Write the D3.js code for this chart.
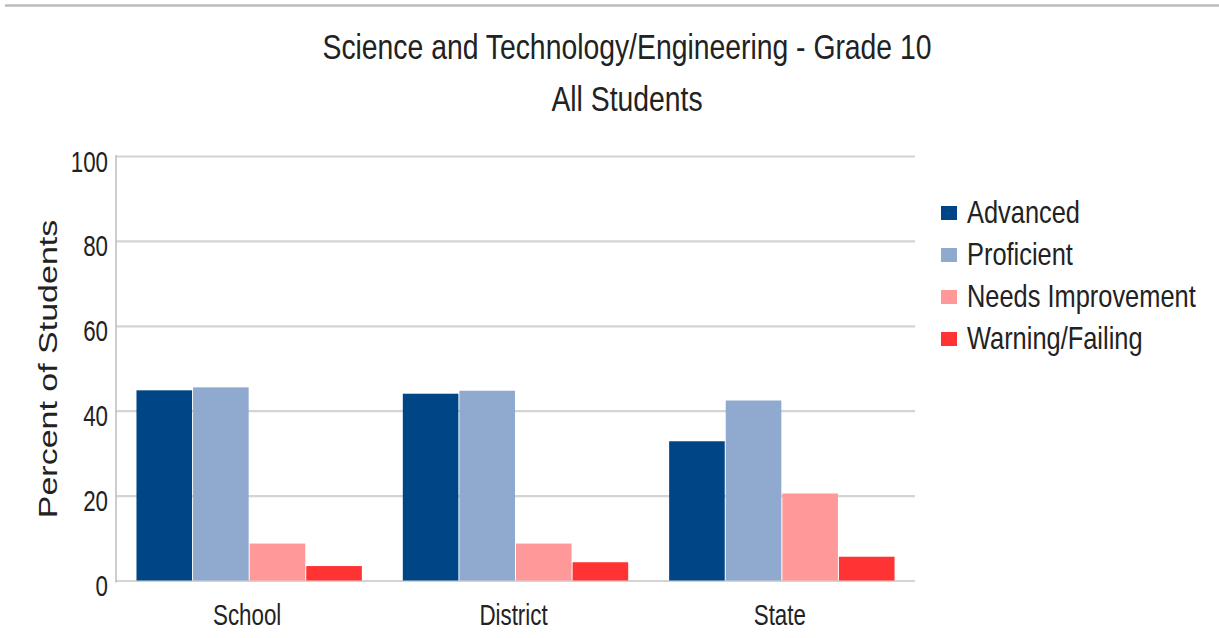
<!DOCTYPE html>
<html>
<head>
<meta charset="utf-8">
<script src="https://cdn.jsdelivr.net/npm/d3@7"></script>
<style>
  html, body { margin: 0; padding: 0; background: #fff; }
  svg { display: block; }
  text { font-family: "Liberation Sans", Arial, sans-serif; fill: #222; }
</style>
</head>
<body>
<svg id="chart" width="1219" height="638"></svg>
<script>
// データ
const categories = ["School", "District", "State"];
const seriesNames = ["Advanced", "Proficient", "Needs Improvement", "Warning/Failing"];
const advanced   = [44.8, 44.0, 32.8];
const proficient = [45.5, 44.7, 42.4];
const needsImpr  = [8.7, 8.7, 20.5];
const warning    = [3.4, 4.3, 5.6];
const yTicks = [0, 20, 40, 60, 80, 100];
const titleText = "Science and Technology/Engineering - Grade 10";
const subtitleText = "All Students";
const yLabel = "Percent of Students";

const seriesValues = [advanced, proficient, needsImpr, warning];
const colors = ["#004586", "#90a9cf", "#ff9999", "#ff3333"];

// 横方向に圧縮された文字
const SX = 0.77;
const SX_WIDE = 0.81;

const svg = d3.select("#chart");

// 上部の罫線
svg.append("line")
  .attr("x1", 5).attr("x2", 1219)
  .attr("y1", 5.5).attr("y2", 5.5)
  .style("stroke", "#bdbdbd")
  .style("stroke-width", 2.5);

// タイトル
svg.append("text")
  .attr("transform", `translate(627,59) scale(${SX_WIDE},1)`)
  .attr("text-anchor", "middle")
  .style("font-size", "35px")
  .text(titleText);
svg.append("text")
  .attr("transform", `translate(627,111) scale(${SX_WIDE},1)`)
  .attr("text-anchor", "middle")
  .style("font-size", "35px")
  .text(subtitleText);

const plot = {left: 116, right: 915, top: 156, bottom: 580.5};

const x0 = d3.scaleBand()
  .domain(categories)
  .range([plot.left, plot.right])
  .paddingInner(0.15)
  .paddingOuter(0.075);

const x1 = d3.scaleBand()
  .domain(seriesNames)
  .range([0, x0.bandwidth()])
  .padding(0);

const y = d3.scaleLinear()
  .domain([0, 100])
  .range([plot.bottom, plot.top]);

// y 軸と罫線
const yAxis = svg.append("g")
  .attr("class", "y-axis")
  .attr("transform", `translate(${plot.left},0)`)
  .call(d3.axisLeft(y)
    .tickValues(yTicks)
    .tickSize(-(plot.right - plot.left))
    .tickPadding(0));
yAxis.select(".domain").remove();
yAxis.selectAll(".tick line")
  .style("stroke", "#d4d4d4")
  .style("stroke-width", 2.2);
yAxis.selectAll(".tick text")
  .attr("x", null).attr("dy", null)
  .attr("transform", `translate(-8,15) scale(${SX},1)`)
  .attr("text-anchor", "end")
  .style("font-size", "29px")
  .style("fill", "#222");

// 縦軸の線
svg.append("line")
  .attr("x1", plot.left).attr("x2", plot.left)
  .attr("y1", plot.top - 1).attr("y2", plot.bottom + 2)
  .style("stroke", "#bcbcbc")
  .style("stroke-width", 1.5);

// 棒
const groups = svg.append("g")
  .selectAll("g")
  .data(categories)
  .join("g")
  .attr("transform", d => `translate(${x0(d)},0)`);

groups.selectAll("rect")
  .data((d, ci) => seriesNames.map((s, si) => ({s, si, v: seriesValues[si][ci]})))
  .join("rect")
  .attr("x", d => x1(d.s) + 0.5)
  .attr("width", x1.bandwidth() - 1)
  .attr("y", d => y(d.v))
  .attr("height", d => y(0) - y(d.v))
  .style("fill", d => colors[d.si]);

// x 軸
const xAxis = svg.append("g")
  .attr("class", "x-axis")
  .attr("transform", `translate(0,${plot.bottom})`)
  .call(d3.axisBottom(x0).tickSize(0).tickPadding(0));
xAxis.select(".domain").remove();
xAxis.selectAll(".tick text")
  .attr("y", null).attr("dy", null)
  .attr("transform", `translate(-2,44) scale(${SX},1)`)
  .attr("text-anchor", "middle")
  .style("font-size", "29px")
  .style("fill", "#222");

// 縦軸ラベル
svg.append("text")
  .attr("transform", `translate(57,369) rotate(-90) scale(1,${SX})`)
  .attr("text-anchor", "middle")
  .style("font-size", "34px")
  .text(yLabel);

// 凡例
const legend = svg.append("g")
  .attr("transform", "translate(941,0)")
  .selectAll("g")
  .data(seriesNames)
  .join("g")
  .attr("transform", (d, i) => `translate(0,${213 + i * 42})`);
legend.append("rect")
  .attr("x", 0).attr("y", -7)
  .attr("width", 16).attr("height", 14)
  .style("fill", (d, i) => colors[i]);
legend.append("text")
  .attr("transform", `translate(26,10) scale(0.82,1)`)
  .style("font-size", "31px")
  .text(d => d);
</script>
</body>
</html>
